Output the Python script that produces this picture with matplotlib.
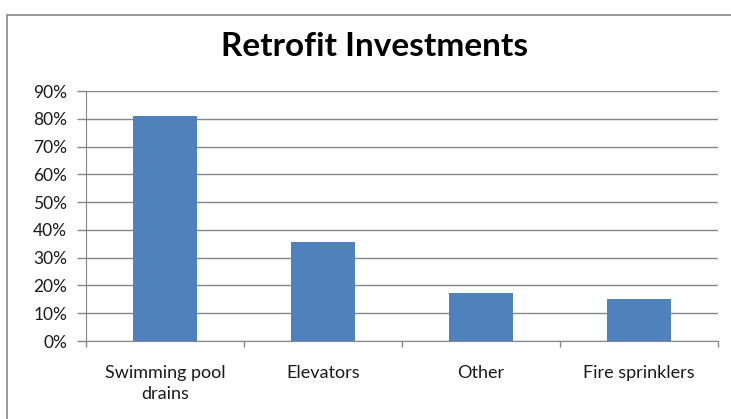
import matplotlib
matplotlib.use("Agg")
import matplotlib.pyplot as plt
from matplotlib.patches import Rectangle
from matplotlib.ticker import PercentFormatter, FixedLocator
import numpy as np

plt.rcParams['font.family'] = ['Lato', 'DejaVu Sans']

categories = ["Swimming pool\ndrains", "Elevators", "Other", "Fire sprinklers"]
shares = [81, 35.5, 17.3, 15.3]
y_ticks = [0, 10, 20, 30, 40, 50, 60, 70, 80, 90]

fig = plt.figure(figsize=(7.31, 4.19), dpi=100)
ax = fig.add_axes([86/731, 1 - 341/419, 632/731, 250/419])

x = np.arange(len(categories))
ax.bar(x, shares, width=0.4, color='#4F81BD', zorder=3)

ax.set_xlim(-0.5, len(categories) - 0.5)
ax.set_ylim(0, 90)
ax.set_yticks(y_ticks)
ax.yaxis.set_major_formatter(PercentFormatter(decimals=0))
ax.set_xticks(x)
ax.set_xticklabels(categories, fontsize=13, color='#1a1a1a', linespacing=1.4)
ax.xaxis.set_minor_locator(FixedLocator(np.arange(-0.5, len(categories), 1)))

ax.grid(axis='y', color='#868686', linewidth=1, zorder=0)
for side in ['top', 'right']:
    ax.spines[side].set_visible(False)
ax.spines['left'].set_color('#868686')
ax.spines['bottom'].set_color('#868686')

ax.tick_params(axis='y', length=6.5, width=1, color='#868686', pad=7,
               labelsize=12.5, labelcolor='#1a1a1a')
ax.tick_params(axis='x', which='major', length=0, pad=17)
ax.tick_params(axis='x', which='minor', length=4, width=1, color='#868686')

fig.text(375/731, 1 - 47/419, "Retrofit Investments", ha='center', va='center',
         fontsize=24, fontweight='bold', color='black')

# outer chart border
fig.patches.append(Rectangle((7/731, -0.05), 1.0, 1 - 15/419 + 0.05,
                             transform=fig.transFigure, fill=False,
                             edgecolor='#868686', linewidth=1.2))

fig.savefig('out.png', dpi=100)
